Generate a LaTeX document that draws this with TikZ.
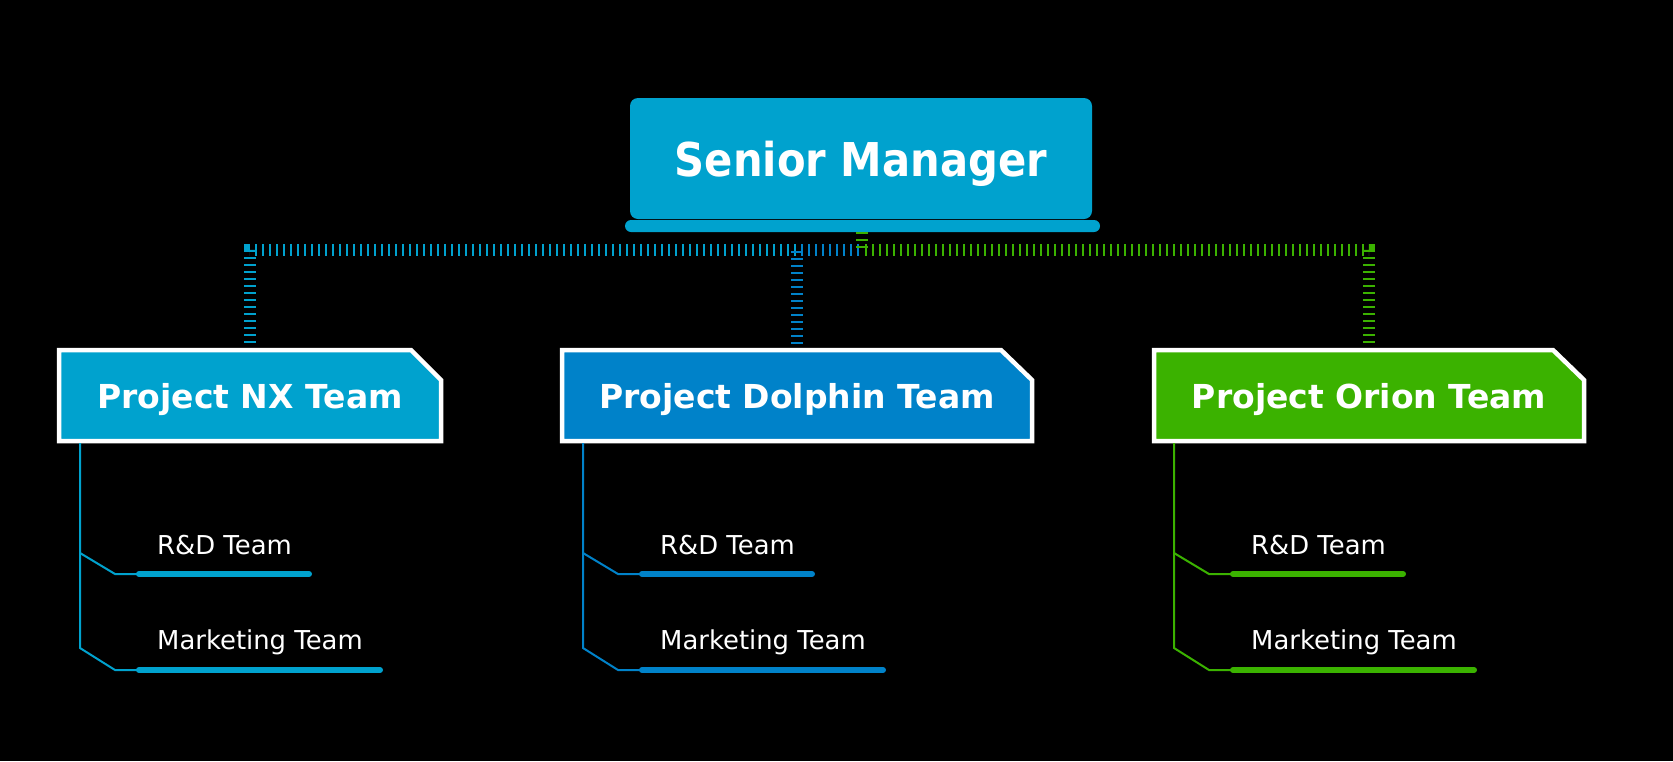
\documentclass[tikz,border=0pt]{standalone}
\usepackage{fontspec}
\setmainfont{DejaVu Sans}
\usepackage{graphicx}
\definecolor{cA}{HTML}{00A2CE}
\definecolor{cB}{HTML}{0082C9}
\definecolor{cC}{HTML}{3BB200}
\tikzset{
  conn/.style={line width=12pt, dash pattern=on 2pt off 5pt},
  subline/.style={line width=2pt},
  subbar/.style={line width=6pt, line cap=round},
  smtitle/.style={font=\fontsize{46.6}{56}\selectfont\bfseries, text=white, inner sep=0pt},
  ptitle/.style={font=\fontsize{33}{40}\selectfont\bfseries, text=white, inner sep=0pt},
  subtext/.style={font=\fontsize{26}{30}\selectfont, text=white, anchor=base west, inner sep=0pt},
  pframe/.style={draw=white, line width=4.5pt},
}
\newcommand\hsq[2]{\scalebox{#1}[1]{#2}}
\newcommand\mkteam[3]{% #1 name, #2 vertical x, #3 colour
  \coordinate (#1v0) at (#2,443);
  \coordinate (#1v1) at (#2,553);
  \coordinate (#1v2) at (#2,648);
  \coordinate (#1d1) at (#2+35,574);
  \coordinate (#1d2) at (#2+35,670);
  \coordinate (#1b1s) at (#2+59,574);
  \coordinate (#1b1e) at (#2+229,574);
  \coordinate (#1b2s) at (#2+59,670);
  \coordinate (#1b2e) at (#2+300,670);
  \draw[subline,#3] (#1v0) -- (#1v2) -- (#1d2) -- (#1b2s);
  \draw[subline,#3] (#1v1) -- (#1d1) -- (#1b1s);
  \draw[subbar,#3] (#1b1s) -- (#1b1e);
  \draw[subbar,#3] (#1b2s) -- (#1b2e);
  \node[subtext] (#1rd) at (#2+77,554) {\hsq{0.995}{R\&D Team}};
  \node[subtext] (#1mk) at (#2+77,649) {\hsq{0.995}{Marketing Team}};
}
\begin{document}
\begin{tikzpicture}[x=1pt,y=-1pt]
\fill[black] (0,0) rectangle (1673,761);
\useasboundingbox (0,0) rectangle (1673,761);

% Senior manager
\fill[cA, rounded corners=8pt] (630,98) rectangle (1092,219);
\fill[cA, rounded corners=6pt] (625,220) rectangle (1100,232);
\node[smtitle] (sm) at (861,164) {\hsq{0.895}{Senior Manager}};
\coordinate (hub) at (862,232);
\coordinate (hubj) at (862,250);

% project boxes
\draw[pframe, fill=cA] (59,350) -- (411,350) -- (441,380) -- (441,441) -- (59,441) -- cycle;
\draw[pframe, fill=cB] (562,350) -- (1001,350) -- (1032,380) -- (1032,441) -- (562,441) -- cycle;
\draw[pframe, fill=cC] (1154,350) -- (1553,350) -- (1584,380) -- (1584,441) -- (1154,441) -- cycle;
\coordinate (nxtop) at (250,347);
\coordinate (dltop) at (797,347);
\coordinate (ortop) at (1369,347);
\node[ptitle] (nx) at (250,400) {\hsq{1.0}{Project NX Team}};
\node[ptitle] (dl) at (797,400) {\hsq{1.0}{Project Dolphin Team}};
\node[ptitle] (or) at (1369,400) {\hsq{1.0}{Project Orion Team}};

% connectors
\draw[conn,cA] (hub) -- (hubj) -| (nxtop);
\draw[conn,cB] (hub) -- (hubj) -| (dltop);
\draw[conn,cC] (hub) -- (hubj) -| (ortop);

% sub teams
\mkteam{nx}{80}{cA}
\mkteam{dl}{583}{cB}
\mkteam{or}{1174}{cC}
\end{tikzpicture}
\end{document}
